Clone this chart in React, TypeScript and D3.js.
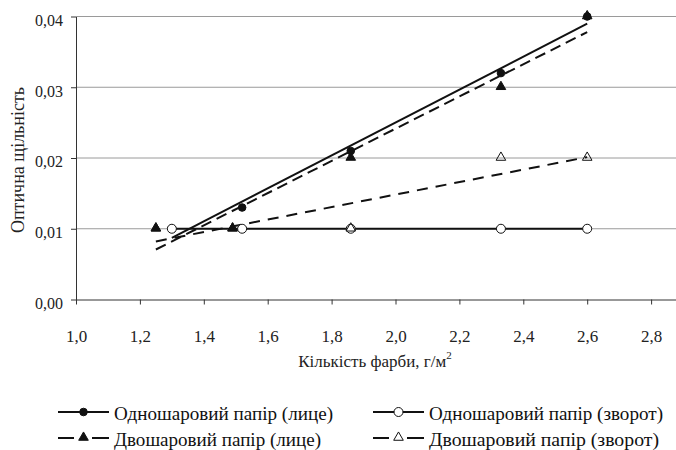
import React, { useRef, useEffect } from "react";
import * as d3 from "d3";

// кількість фарби, г/м2
const xOneFace = [1.3, 1.52, 1.86, 2.33, 2.6];
const yOneFace = [0.01, 0.013, 0.021, 0.032, 0.04];
const xOneBack = [1.3, 1.52, 1.86, 2.33, 2.6];
const yOneBack = [0.01, 0.01, 0.01, 0.01, 0.01];
const xTwoFace = [1.25, 1.49, 1.86, 2.33, 2.6];
const yTwoFace = [0.01, 0.01, 0.02, 0.03, 0.04];
const xTwoBack = [1.25, 1.49, 1.86, 2.33, 2.6];
const yTwoBack = [0.01, 0.01, 0.01, 0.02, 0.02];

const xTicks = [1.0, 1.2, 1.4, 1.6, 1.8, 2.0, 2.2, 2.4, 2.6, 2.8];
const yTicks = [0, 0.01, 0.02, 0.03, 0.04];

const labels = [
  "Одношаровий папір (лице)",
  "Одношаровий папір (зворот)",
  "Двошаровий папір (лице)",
  "Двошаровий папір (зворот)",
];

const W = 676;
const H = 450;
const FONT = "Liberation Serif, DejaVu Serif, serif";

// linear trend, as the spreadsheet draws it
function trend(xs: number[], ys: number[]) {
  const mx = d3.mean(xs)!;
  const my = d3.mean(ys)!;
  const sxy = d3.sum(xs, (x, i) => (x - mx) * (ys[i] - my));
  const sxx = d3.sum(xs, (x) => (x - mx) * (x - mx));
  const b = sxy / sxx;
  const a = my - b * mx;
  const [x0, x1] = d3.extent(xs) as [number, number];
  return [
    [x0, a + b * x0],
    [x1, a + b * x1],
  ] as [number, number][];
}

export default function App() {
  const ref = useRef<SVGSVGElement>(null);

  useEffect(() => {
    const svg = d3.select(ref.current);
    svg.selectAll("*").remove();

    const x = d3.scaleLinear().domain([1, 3]).range([76, 715]);
    const y = d3.scaleLinear().domain([0, 0.04]).range([299.5, 16.5]);
    const fmt = (d: number, n: number) => d.toFixed(n).replace(".", ",");

    // grid
    svg.append("g")
      .selectAll("line")
      .data(yTicks.slice(1))
      .join("line")
      .attr("x1", 76).attr("x2", W)
      .attr("y1", (d) => y(d)).attr("y2", (d) => y(d))
      .attr("stroke", "#9a9a9a").attr("stroke-width", 1);

    // axes
    const gx = svg.append("g").attr("transform", `translate(0,${y(0)})`)
      .call(d3.axisBottom(x).tickValues(xTicks).tickSize(5).tickSizeOuter(0).tickFormat((d) => fmt(+d, 1)));
    gx.select(".domain").attr("stroke", "#333");
    gx.selectAll(".tick line").attr("stroke", "#333");
    gx.selectAll("text").attr("font-family", FONT).attr("font-size", 17).attr("fill", "#222")
      .attr("y", 42).attr("dy", null);

    const gy = svg.append("g").attr("transform", `translate(76,0)`)
      .call(d3.axisLeft(y).tickValues(yTicks).tickSize(5).tickSizeOuter(0).tickFormat((d) => fmt(+d, 2)));
    gy.select(".domain").attr("stroke", "#333");
    gy.selectAll(".tick line").attr("stroke", "#333");
    gy.selectAll("text").attr("font-family", FONT).attr("font-size", 16).attr("fill", "#222")
      .attr("x", -13).attr("dy", "0.55em");

    // titles
    const xt = svg.append("text")
      .attr("x", 375).attr("y", 367)
      .attr("text-anchor", "middle")
      .attr("font-family", FONT).attr("font-size", 17).attr("fill", "#222")
      .text("Кількість фарби, г/м");
    xt.append("tspan").attr("dy", -8).attr("font-size", 11).text("2");

    svg.append("text")
      .attr("transform", `translate(24,160) rotate(-90)`)
      .attr("text-anchor", "middle")
      .attr("font-family", FONT).attr("font-size", 18).attr("fill", "#222")
      .text("Оптична щільність");

    const line = d3.line<[number, number]>().x((d) => x(d[0])).y((d) => y(d[1]));

    const plot = svg.append("g");
    const trendStyle = [
      { xs: xOneBack, ys: yOneBack, dash: null },
      { xs: xTwoBack, ys: yTwoBack, dash: "11,8" },
      { xs: xOneFace, ys: yOneFace, dash: null },
      { xs: xTwoFace, ys: yTwoFace, dash: "11,6" },
    ];
    trendStyle.forEach((s) => {
      plot.append("path")
        .attr("d", line(trend(s.xs, s.ys)))
        .attr("fill", "none")
        .attr("stroke", "#111")
        .attr("stroke-width", 2)
        .attr("stroke-dasharray", s.dash);
    });

    const tri = d3.symbol().type(d3.symbolTriangle).size(40);

    const drawCircles = (g: any, xs: number[], ys: number[], filled: boolean) => {
      g.selectAll(null).data(xs).join("circle")
        .attr("cx", (d: number) => x(d))
        .attr("cy", (_: number, i: number) => y(ys[i]))
        .attr("r", filled ? 3.8 : 4.5)
        .attr("fill", filled ? "#111" : "#fff")
        .attr("stroke", "#111").attr("stroke-width", 1);
    };
    const drawTris = (g: any, xs: number[], ys: number[], filled: boolean) => {
      g.selectAll(null).data(xs).join("path")
        .attr("d", tri)
        .attr("transform", (d: number, i: number) => `translate(${x(d)},${y(ys[i]) - 0.5})`)
        .attr("fill", filled ? "#111" : "none")
        .attr("stroke", "#111").attr("stroke-width", 1);
    };

    drawCircles(plot.append("g"), xOneFace, yOneFace, true);
    drawCircles(plot.append("g"), xOneBack, yOneBack, false);
    drawTris(plot.append("g"), xTwoBack, yTwoBack, false);
    drawTris(plot.append("g"), xTwoFace, yTwoFace, true);

    // legend
    const legendPos = [
      [58, 412], [373, 412], [58, 438], [373, 438],
    ];
    const legendWidth = [219, 234, 207, 230];
    labels.forEach((lab, i) => {
      const [lx, ly] = legendPos[i];
      const g = svg.append("g").attr("transform", `translate(${lx},${ly})`);
      const segs = i < 2 ? [[0, 51]] : [[0, 16], [34, 51]];
      segs.forEach(([a, b]) => {
        g.append("line")
          .attr("x1", a).attr("x2", b).attr("y1", 0).attr("y2", 0)
          .attr("stroke", "#111").attr("stroke-width", 2);
      });
      if (i < 2) {
        g.append("circle").attr("cx", 25.5).attr("cy", 0)
          .attr("r", i === 0 ? 3.8 : 4.5)
          .attr("fill", i === 0 ? "#111" : "#fff")
          .attr("stroke", "#111").attr("stroke-width", 1);
      } else {
        g.append("path").attr("d", tri)
          .attr("transform", "translate(25.5,-0.5)")
          .attr("fill", i === 2 ? "#111" : "#fff")
          .attr("stroke", "#111").attr("stroke-width", 1);
      }
      g.append("text")
        .attr("x", 56).attr("y", 8)
        .attr("font-family", FONT).attr("font-size", 19).attr("fill", "#111")
        .attr("textLength", legendWidth[i]).attr("lengthAdjust", "spacingAndGlyphs")
        .text(lab);
    });
  }, []);

  return (
    <svg
      ref={ref}
      width={W}
      height={H}
      style={{ position: "absolute", left: 0, top: 0, background: "#fff" }}
    />
  );
}
